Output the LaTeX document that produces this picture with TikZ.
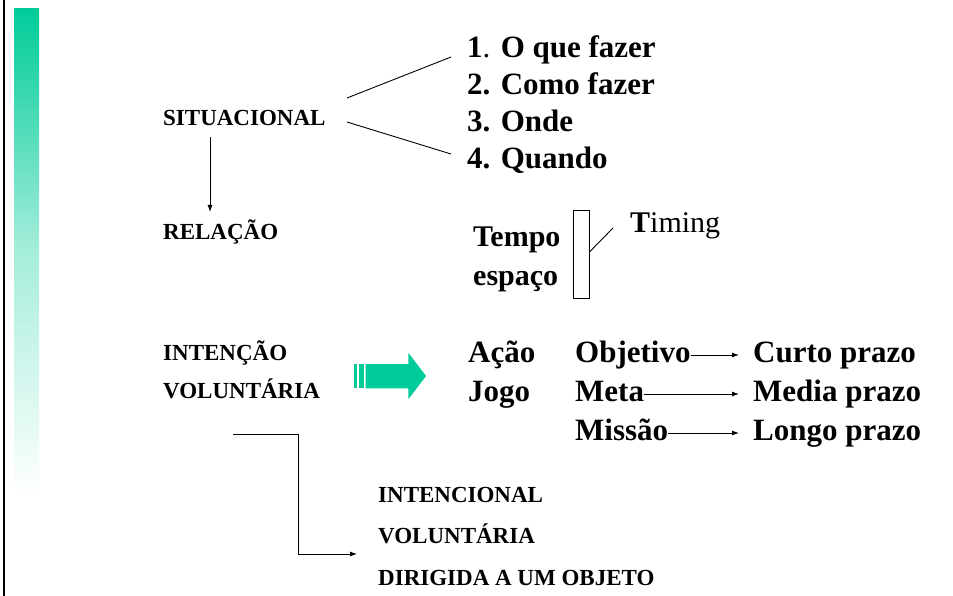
\documentclass[tikz,border=0pt]{standalone}
\usepackage{fontspec}
\setmainfont{Liberation Serif}
\usetikzlibrary{arrows.meta}
\definecolor{seagreen}{HTML}{00CC99}
\tikzset{
  big/.style={anchor=base west, inner sep=0pt, font=\fontsize{31}{37}\selectfont\bfseries},
  mid/.style={anchor=base west, inner sep=0pt, font=\fontsize{30}{36}\selectfont\bfseries},
  small/.style={anchor=base west, inner sep=0pt, font=\fontsize{23}{28}\selectfont\bfseries},
  conn/.style={line width=0.9pt},
  arr/.style={line width=0.9pt, -{Latex[length=7pt,width=5pt]}},
}
\begin{document}
\begin{tikzpicture}[x=1pt,y=-1pt]
\useasboundingbox (0,0) rectangle (953,596);
\fill[white] (0,0) rectangle (953,596);
% left border and gradient bar
\draw[line width=2pt] (3.5,0) -- (3.5,596);
\shade[top color=seagreen, bottom color=white, middle color=seagreen!35] (14,9) rectangle (39,495);

% left column
\node[small] (sit) at (163,126) {SITUACIONAL};
\node[small] (rel) at (163,240) {RELAÇÃO};
\node[small] (int) at (163,360) {INTENÇÃO};
\node[small] (vol) at (163,398) {VOLUNTÁRIA};

% list
\node[big] (l1) at (467,58) {1\textmd{.} O que fazer};
\node[big] (l2) at (467,95) {2. Como fazer};
\node[big] (l3) at (467,132) {3. Onde};
\node[big] (l4) at (467,169) {4. Quando};

\coordinate (s1) at (347,98);
\coordinate (s2) at (347,122);
\coordinate (e1) at (451,57);
\coordinate (e2) at (451,154);
\draw[conn] (s1) -- (e1);
\draw[conn] (s2) -- (e2);

% situacional -> relacao
\draw[arr] (210,137) -- (210,212);

% tempo/espaco
\node[mid] (tempo) at (473,247) {Tempo};
\node[mid] (esp) at (473,285) {espaço};
\node[draw, line width=0.9pt, inner sep=0pt, minimum width=16pt, minimum height=88pt] (box) at (581,254) {};
\node[anchor=base west, inner sep=0pt, font=\fontsize{30}{36}\selectfont] (tim) at (630,233) {\textbf{T}iming};
\coordinate (te) at (613,228);
\draw[conn] ([yshift=2pt]box.east) -- (te);

% green arrow
\fill[seagreen] (354,364) rectangle (356.7,388.3);
\fill[seagreen] (359,364) rectangle (364,388.3);
\fill[seagreen] (365.7,364) -- (408.3,364) -- (408.3,352.7) -- (426,376) -- (408.3,399.3) -- (408.3,388.3) -- (365.7,388.3) -- cycle;

% acao/jogo
\node[big] (acao) at (468,362) {Ação};
\node[big] (jogo) at (468,401) {Jogo};
\node[big] (obj) at (575,362) {Objetivo};
\node[big] (meta) at (575,401) {Meta};
\node[big] (miss) at (575,440) {Missão};
\node[big] (curto) at (753,362) {Curto prazo};
\node[big] (media) at (753,401) {Media prazo};
\node[big] (longo) at (753,440) {Longo prazo};
\draw[arr] ([yshift=7pt]obj.base east) -- ([xshift=-14pt,yshift=7pt]curto.base west);
\draw[arr] ([yshift=7pt]meta.base east) -- ([xshift=-14pt,yshift=7pt]media.base west);
\draw[arr] ([yshift=7pt]miss.base east) -- ([xshift=-14pt,yshift=7pt]longo.base west);

% bottom
\node[small] (i2) at (378,502) {INTENCIONAL};
\node[small] (v2) at (378,543) {VOLUNTÁRIA};
\node[small] (d2) at (378,585) {DIRIGIDA A UM OBJETO};
\coordinate (b0) at (233,434);
\coordinate (b1) at (357,554);
\draw[arr] (b0) -- (298,434) -- (298,554) -- (b1);
\end{tikzpicture}
\end{document}
